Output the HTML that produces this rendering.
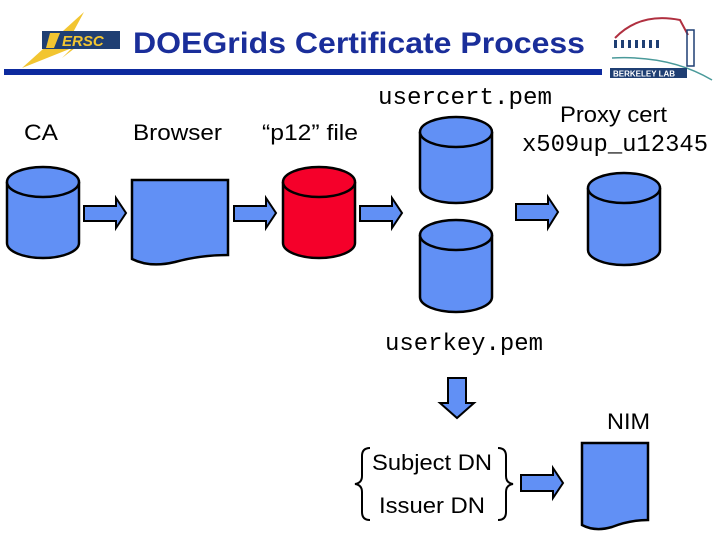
<!DOCTYPE html>
<html><head><meta charset="utf-8"><style>
html,body{margin:0;padding:0;background:#fff;}
svg{display:block;}
</style></head><body>
<svg width="720" height="540" viewBox="0 0 720 540" xmlns="http://www.w3.org/2000/svg">
<polygon points="22,68 84,12 70,38 88,38 62,58 72,48" fill="#f2c531"/>
<rect x="42" y="31" width="78" height="18" fill="#1f3f73"/>
<text x="62" y="46" font-family="Liberation Sans, sans-serif" font-weight="bold" font-style="italic" font-size="15" fill="#f2c531">ERSC</text>
<polygon points="50,33 60,33 54,48 46,48" fill="#f2c531"/>
<text x="133" y="53" font-family="Liberation Sans, sans-serif" font-weight="bold" font-size="30" fill="#1a2e9a" textLength="452" lengthAdjust="spacingAndGlyphs">DOEGrids Certificate Process</text>
<rect x="4" y="69" width="598" height="6" fill="#0d2a9e"/>
<path d="M615,38 Q640,12 680,20 L688,35" stroke="#b03040" stroke-width="2" fill="none"/>
<g fill="#1f3f73"><rect x="614" y="40" width="3" height="8"/><rect x="621" y="40" width="3" height="8"/><rect x="628" y="40" width="3" height="8"/><rect x="635" y="40" width="3" height="8"/><rect x="642" y="40" width="3" height="8"/><rect x="649" y="40" width="3" height="8"/><rect x="656" y="40" width="3" height="8"/></g>
<rect x="687" y="30" width="7" height="36" fill="none" stroke="#1f3f73" stroke-width="1.5"/>
<path d="M612,58 Q670,55 712,80" stroke="#4a9a9a" stroke-width="1.5" fill="none"/>
<rect x="610" y="68" width="77" height="10" fill="#1f3f73"/>
<text x="613" y="76.5" font-family="Liberation Sans, sans-serif" font-weight="bold" font-size="8" fill="#fff">BERKELEY LAB</text>

<g font-family="Liberation Sans, sans-serif" font-size="22" fill="#000">
<text x="24" y="140" textLength="34" lengthAdjust="spacingAndGlyphs">CA</text>
<text x="133" y="140" textLength="89" lengthAdjust="spacingAndGlyphs">Browser</text>
<text x="262" y="140" textLength="96" lengthAdjust="spacingAndGlyphs">“p12” file</text>
<text x="560" y="122" textLength="107" lengthAdjust="spacingAndGlyphs">Proxy cert</text>
<text x="607" y="429" textLength="43" lengthAdjust="spacingAndGlyphs">NIM</text>
<text x="372" y="470" textLength="120" lengthAdjust="spacingAndGlyphs">Subject DN</text>
<text x="379" y="513" textLength="106" lengthAdjust="spacingAndGlyphs">Issuer DN</text>
</g>
<g font-family="Liberation Mono, monospace" font-size="24" fill="#000">
<text x="378" y="104" textLength="174" lengthAdjust="spacingAndGlyphs">usercert.pem</text>
<text x="522" y="151" textLength="186" lengthAdjust="spacingAndGlyphs">x509up_u12345</text>
<text x="385" y="350" textLength="158" lengthAdjust="spacingAndGlyphs">userkey.pem</text>
</g>

<g stroke="#000" stroke-width="2.5">
<path d="M7,182 V243 A36,15 0 0 0 79,243 V182" fill="#6190f5"/><ellipse cx="43" cy="182" rx="36" ry="15" fill="#6190f5"/>
<path d="M283,182 V243 A36,15 0 0 0 355,243 V182" fill="#f5002a"/><ellipse cx="319" cy="182" rx="36" ry="15" fill="#f5002a"/>
<path d="M420,132 V188 A36,15 0 0 0 492,188 V132" fill="#6190f5"/><ellipse cx="456" cy="132" rx="36" ry="15" fill="#6190f5"/>
<path d="M420,235 V297 A36,15 0 0 0 492,297 V235" fill="#6190f5"/><ellipse cx="456" cy="235" rx="36" ry="15" fill="#6190f5"/>
<path d="M588,188 V250 A36,15 0 0 0 660,250 V188" fill="#6190f5"/><ellipse cx="624" cy="188" rx="36" ry="15" fill="#6190f5"/>
<path d="M132,180 H228 V255 Q200,255 175,262 Q150,268 132,259 Z" fill="#6190f5"/>
<path d="M582,443 H648 V520 Q630,520 612,527 Q595,532 582,525 Z" fill="#6190f5"/>
<g fill="#6190f5" stroke-width="2">
<polygon points="84,206 116,206 116,198 126,213 116,228 116,221 84,221"/>
<polygon points="234,206 266,206 266,198 276,213 266,228 266,221 234,221"/>
<polygon points="360,206 392,206 392,198 402,213 392,228 392,221 360,221"/>
<polygon points="516,204 548,204 548,197 558,212 548,228 548,220 516,220"/>
<polygon points="521,475 553,475 553,468 563,483 553,498 553,491 521,491"/>
<polygon points="448,378 466,378 466,403 474,403 457,418 440,403 448,403"/>
</g>
</g>
<g stroke="#000" stroke-width="2" fill="none">
<path d="M370,448 Q362,448 362,456 V476 Q362,483 355,484 Q362,485 362,492 V512 Q362,520 370,520"/>
<path d="M498,448 Q506,448 506,456 V476 Q506,483 513,484 Q506,485 506,492 V512 Q506,520 498,520"/>
</g>
</svg>
</body></html>
